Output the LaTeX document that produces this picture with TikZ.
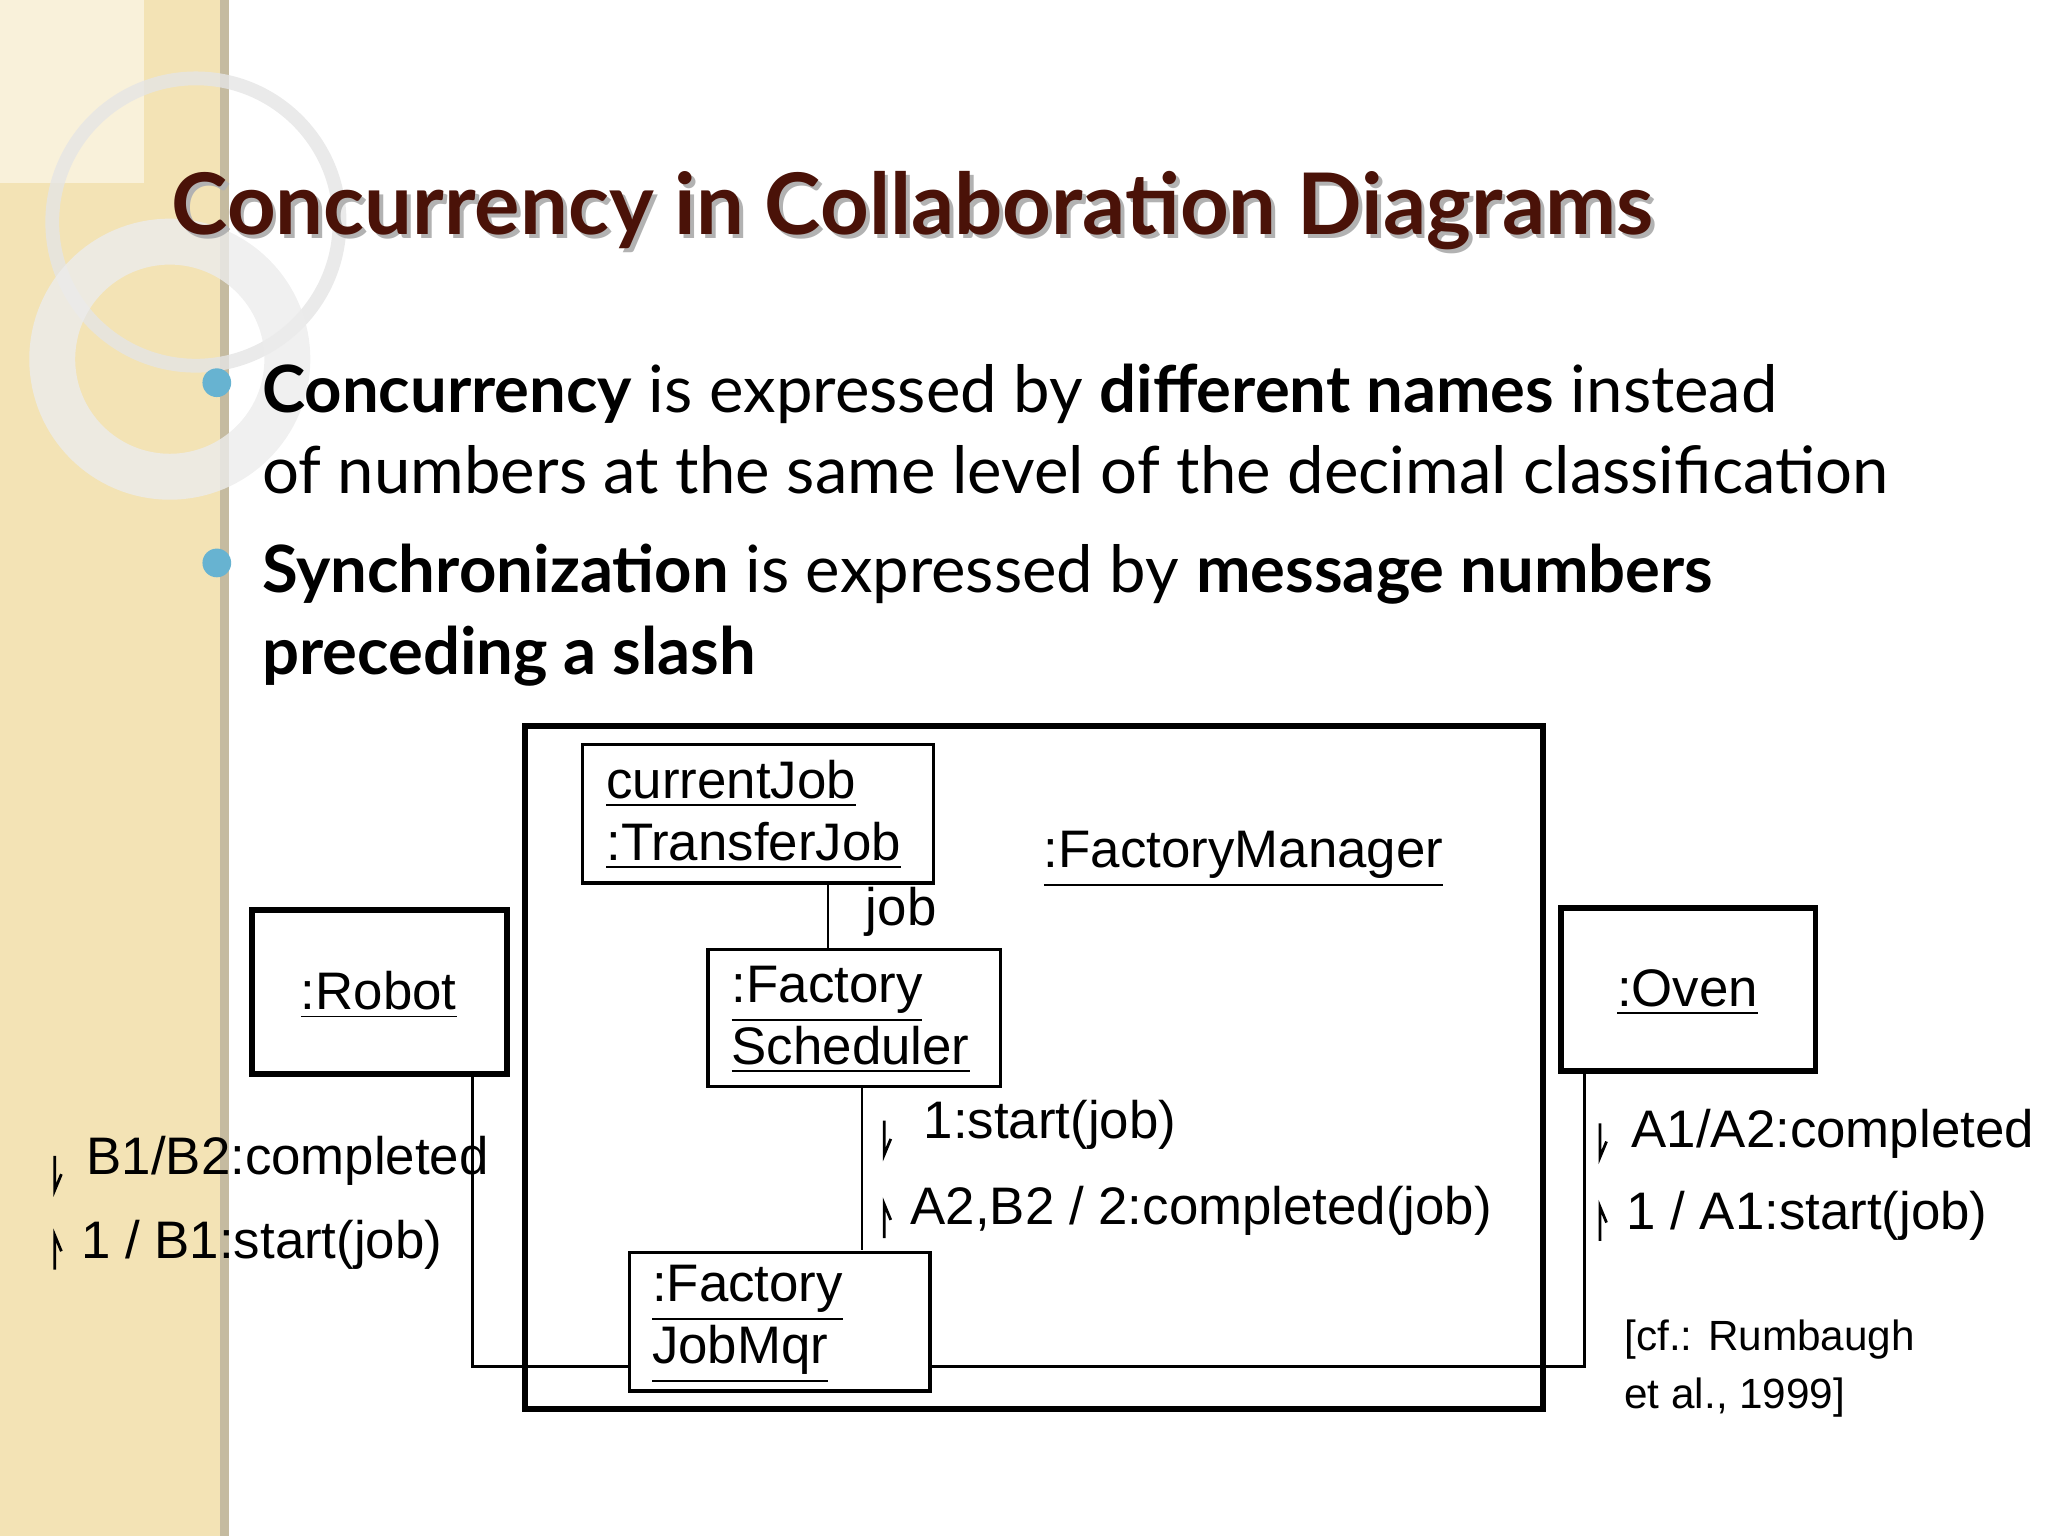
\documentclass[tikz,border=0pt]{standalone}
\usepackage{fontspec}
\setmainfont{Liberation Sans}
\newfontfamily\gill{Lato}
\definecolor{beige}{HTML}{F3E3B5}
\definecolor{titlered}{HTML}{4A1208}
\tikzset{
 obj/.style={draw,line width=0.7pt},
 thick box/.style={draw,line width=1.3pt},
 conn/.style={line width=0.6pt},
 lbl/.style={font=\fontsize{11.5}{13.5}\selectfont,inner sep=1pt},
 bul/.style={font=\gill\fontsize{14.2}{17.7}\selectfont,anchor=north west,align=left,inner sep=0pt}
}
\newcommand{\hdown}[1]{\draw[line width=0.6pt] #1 -- ++(0,26) -- ++(5,-12);}
\newcommand{\hup}[1]{\draw[line width=0.6pt] #1 ++(0,26) -- ++(0,-26) -- ++(5,12);}
\begin{document}
\begin{tikzpicture}[x=0.01cm,y=-0.01cm]
\useasboundingbox (0,0) rectangle (1568,1176);
\fill[beige] (0,0) rectangle (172,1176);
\draw[line width=2pt,color=beige!60!gray] (172,0) -- (172,1176);
\fill[white,opacity=0.5] (0,0) rectangle (110,140);
\draw[line width=3pt,color=white!80!gray,opacity=0.8] (150,170) circle (110);
\draw[line width=10pt,color=white!85!gray,opacity=0.8] (130,275) circle (90);
% title
\node[anchor=west,font=\gill\bfseries\fontsize{18.5}{20}\selectfont,text=gray!60] at (122,164) {Concurrency in Collaboration Diagrams};
\node (title) [anchor=west,font=\gill\bfseries\fontsize{18.5}{20}\selectfont,text=titlered] at (119,161) {Concurrency in Collaboration Diagrams};
% bullets
\fill[cyan!50!teal!70] (166,293) circle (11);
\fill[cyan!50!teal!70] (166,431) circle (11);
\node (b1) [bul] at (200,278) {\textbf{Concurrency} is expressed by \textbf{different names} instead\\of numbers at the same level of the decimal classification};
\node (b2) [bul] at (200,416) {\textbf{Synchronization} is expressed by \textbf{message numbers}\\\textbf{preceding a slash}};
% diagram
\draw[thick box] (402,556) rectangle (1181,1079);
\node (fm) [lbl,anchor=west] at (795,658) {\underline{:FactoryManager}};
\draw[obj] (446,570) rectangle (715,676);
\node (cjt) [lbl,anchor=west,align=left] at (460,624) {\underline{currentJob}\\\underline{:TransferJob}};
\draw[obj] (542,727) rectangle (766,832);
\node (fst) [lbl,anchor=west,align=left] at (556,781) {\underline{:Factory}\\\underline{Scheduler}};
\draw[obj] (482,959) rectangle (712,1065);
\node (fjt) [lbl,anchor=west,align=left] at (495,1014) {\underline{:Factory}\\\underline{JobMqr}};
\draw[thick box] (193,697) rectangle (388,822);
\node (rb) [lbl] at (290,762) {\underline{:Robot}};
\draw[thick box] (1195,695) rectangle (1390,820);
\node (ov) [lbl] at (1292,760) {\underline{:Oven}};
\coordinate (a1) at (634,676); \coordinate (a2) at (634,727);
\draw[conn] (a1) -- (a2);
\node[lbl] at (690,698) {job};
\coordinate (s1) at (660,832); \coordinate (s2) at (660,957);
\draw[conn] (s1) -- (s2);
\coordinate (r1) at (362,822); \coordinate (r2) at (362,1046); \coordinate (r3) at (482,1046);
\draw[conn] (r1) -- (r2) -- (r3);
\coordinate (o1) at (1213,820); \coordinate (o2) at (1213,1046); \coordinate (o3) at (712,1046);
\draw[conn] (o1) -- (o2) -- (o3);
% labels
\hdown{(677,858)} \node[lbl,anchor=west] at (703,861) {1:start(job)};
\hup{(677,922)} \node[lbl,anchor=west] at (693,927) {A2,B2 / 2:completed(job)};
\hdown{(42,885)} \node[lbl,anchor=west] at (62,889) {B1/B2:completed};
\hup{(42,946)} \node[lbl,anchor=west] at (58,953) {1 / B1:start(job)};
\hdown{(1225,860)} \node[lbl,anchor=west] at (1245,868) {A1/A2:completed};
\hup{(1225,924)} \node[lbl,anchor=west] at (1241,931) {1 / A1:start(job)};
\node[anchor=north west,align=left,font=\fontsize{9.2}{12.5}\selectfont,inner sep=0pt] at (1243,1010) {[cf.: Rumbaugh\\et al., 1999]};
\end{tikzpicture}
\end{document}
